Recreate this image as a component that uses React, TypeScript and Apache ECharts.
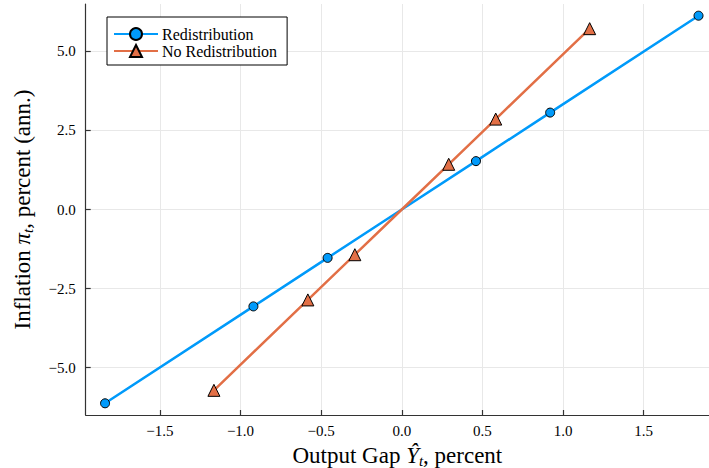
import React, { useEffect, useRef } from "react";
import * as echarts from "echarts";

const redX = [-1.84, -0.92, -0.46, 0, 0.46, 0.92, 1.84];
const redY = [-6.13, -3.065, -1.53, 0, 1.53, 3.065, 6.13];
const noX = [-1.165, -0.5825, -0.291, 0, 0.291, 0.5825, 1.165];
const noY = [-5.72, -2.86, -1.43, 0, 1.43, 2.86, 5.72];
const xTicks = [-1.5, -1.0, -0.5, 0.0, 0.5, 1.0, 1.5];
const yTicks = [-5.0, -2.5, 0.0, 2.5, 5.0];
const seriesNames = ["Redistribution", "No Redistribution"];

const FONT = "'Liberation Serif', 'DejaVu Serif', serif";
const BLUE = "#009AFA";
const ORANGE = "#E26F46";
const AXIS = "#333333";

function fmt(v: number) {
  const s = Math.abs(v).toFixed(1);
  return v < 0 ? "\u2212" + s : s;
}

function pts(xs: number[], ys: number[]) {
  return xs.map((x, i) =>
    x === 0 && ys[i] === 0 ? { value: [x, ys[i]], symbol: "none" } : { value: [x, ys[i]] }
  );
}

export default function App() {
  const ref = useRef<HTMLDivElement>(null);
  useEffect(() => {
    const chart = echarts.init(ref.current!, null, { renderer: "svg" });
    const sub = {
      i: { fontFamily: FONT, fontSize: 23, fontStyle: "italic", lineHeight: 26, color: "#000" },
      s: { fontFamily: FONT, fontSize: 15, fontStyle: "italic", lineHeight: 26, verticalAlign: "bottom", color: "#000" },
    };
    chart.setOption({
      animation: false,
      backgroundColor: "#ffffff",
      grid: { left: 85.7, right: 0, top: 4, bottom: 53, containLabel: false, outerBoundsMode: "none" },
      legend: {
        orient: "vertical",
        left: 107,
        top: 17,
        padding: [9, 10, 6, 6],
        itemWidth: 44,
        itemHeight: 15,
        itemGap: 1,
        borderColor: "#000",
        borderWidth: 1,
        backgroundColor: "#fff",
        textStyle: { fontFamily: FONT, fontSize: 16, color: "#000", padding: [0, 0, 0, -1] },
        data: seriesNames,
      },
      xAxis: {
        type: "value",
        min: -1.96,
        max: 1.905,
        name: "Output Gap {i|\u0176}{s|t}, percent",
        nameLocation: "middle",
        nameGap: 15,
        nameTextStyle: { fontFamily: FONT, fontSize: 23, color: "#000", lineHeight: 26, rich: sub },
        axisLine: { onZero: false, lineStyle: { color: AXIS, width: 1.2 } },
        axisTick: { inside: true, length: 5, customValues: xTicks, lineStyle: { color: AXIS, width: 1.2 } },
        axisLabel: { customValues: xTicks, formatter: (v: number) => fmt(v), fontFamily: FONT, fontSize: 15, color: "#000", margin: 8 },
        splitLine: { show: true, lineStyle: { color: "#e8e8e8", width: 1 } },
      },
      yAxis: {
        type: "value",
        min: -6.5,
        max: 6.5,
        name: "Inflation {i|\u03C0}{s|t}, percent (ann.)",
        nameLocation: "middle",
        nameGap: 50,
        nameTextStyle: { fontFamily: FONT, fontSize: 23, color: "#000", lineHeight: 26, rich: sub },
        axisLine: { onZero: false, lineStyle: { color: AXIS, width: 1.2 } },
        axisTick: { inside: true, length: 5, customValues: yTicks, lineStyle: { color: AXIS, width: 1.2 } },
        axisLabel: { customValues: yTicks, formatter: (v: number) => fmt(v), fontFamily: FONT, fontSize: 15, color: "#000", margin: 10 },
        splitLine: { show: true, lineStyle: { color: "#e8e8e8", width: 1 } },
      },
      series: [
        {
          name: seriesNames[0],
          type: "line",
          data: pts(redX, redY),
          symbol: "circle",
          symbolSize: 9,
          showAllSymbol: true,
          lineStyle: { color: BLUE, width: 2.5 },
          itemStyle: { color: BLUE, borderColor: "#000", borderWidth: 1 },
        },
        {
          name: seriesNames[1],
          type: "line",
          data: pts(noX, noY),
          symbol: "triangle",
          symbolSize: 12,
          showAllSymbol: true,
          lineStyle: { color: ORANGE, width: 2.5 },
          itemStyle: { color: ORANGE, borderColor: "#000", borderWidth: 1 },
        },
      ],
    });
    return () => chart.dispose();
  }, []);
  return (
    <div
      ref={ref}
      style={{ position: "fixed", left: 0, top: 0, width: 709, height: 468 }}
    />
  );
}
